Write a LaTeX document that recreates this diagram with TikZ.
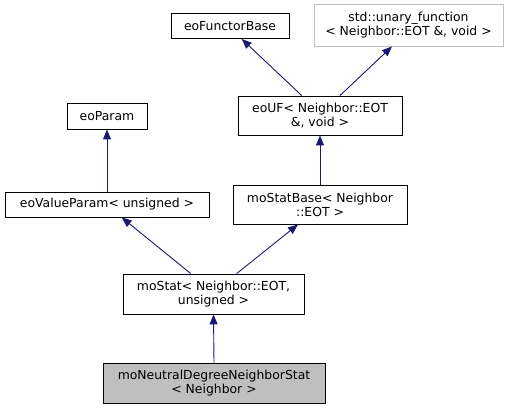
\documentclass[tikz,border=0pt]{standalone}
\usepackage{fontspec}
\setmainfont{DejaVu Sans}
\usetikzlibrary{arrows.meta}
\definecolor{edgeblue}{HTML}{191970}
\definecolor{lightborder}{HTML}{BFBFBF}
\definecolor{selfill}{HTML}{BFBFBF}
\tikzset{
  cls/.style={draw=black, line width=0.9pt, fill=white, align=center, inner sep=0pt,
    font=\fontsize{12.4}{14}\selectfont},
  edge/.style={draw=edgeblue, line width=0.9pt, -{Triangle[length=10pt,width=8pt]}}
}
\begin{document}
\begin{tikzpicture}[x=1pt,y=-1pt]
\useasboundingbox (0,0) rectangle (514,409);
\node[cls, minimum width=118pt, minimum height=25.5pt] (fb) at (230,25.75) {eoFunctorBase};
\node[cls, draw=lightborder, minimum width=189pt, minimum height=42pt] (uf) at (408.5,25) {std::unary\_function\\\textless{} Neighbor::EOT \&, void \textgreater{}};
\node[cls, minimum width=164pt, minimum height=39pt] (eouf) at (320,115.5) {eoUF\textless{} Neighbor::EOT\\\&, void \textgreater{}};
\node[cls, minimum width=80pt, minimum height=26pt] (par) at (107,116) {eoParam};
\node[cls, minimum width=204pt, minimum height=25pt] (vpar) at (107,204.5) {eoValueParam\textless{} unsigned \textgreater{}};
\node[cls, minimum width=174pt, minimum height=39pt] (sb) at (320,204.5) {moStatBase\textless{} Neighbor\\::EOT \textgreater{}};
\node[cls, minimum width=181pt, minimum height=40pt] (st) at (213.5,294) {moStat\textless{} Neighbor::EOT,\\unsigned \textgreater{}};
\node[cls, fill=selfill, minimum width=222pt, minimum height=40pt] (nd) at (214,383.3) {moNeutralDegreeNeighborStat\\\textless{} Neighbor \textgreater{}};
\draw[edge] ([xshift=-18.3pt]eouf.north) -- ([xshift=11.7pt]fb.south);
\draw[edge] ([xshift=20pt]eouf.north) -- ([xshift=-16.5pt]uf.south);
\draw[edge] (sb.north) -- (eouf.south);
\draw[edge] (vpar.north) -- (par.south);
\draw[edge] ([xshift=-22.8pt]st.north) -- ([xshift=14.7pt]vpar.south);
\draw[edge] ([xshift=23.2pt]st.north) -- ([xshift=-22pt]sb.south);
\draw[edge] (nd.north) -- (st.south);
\end{tikzpicture}
\end{document}
